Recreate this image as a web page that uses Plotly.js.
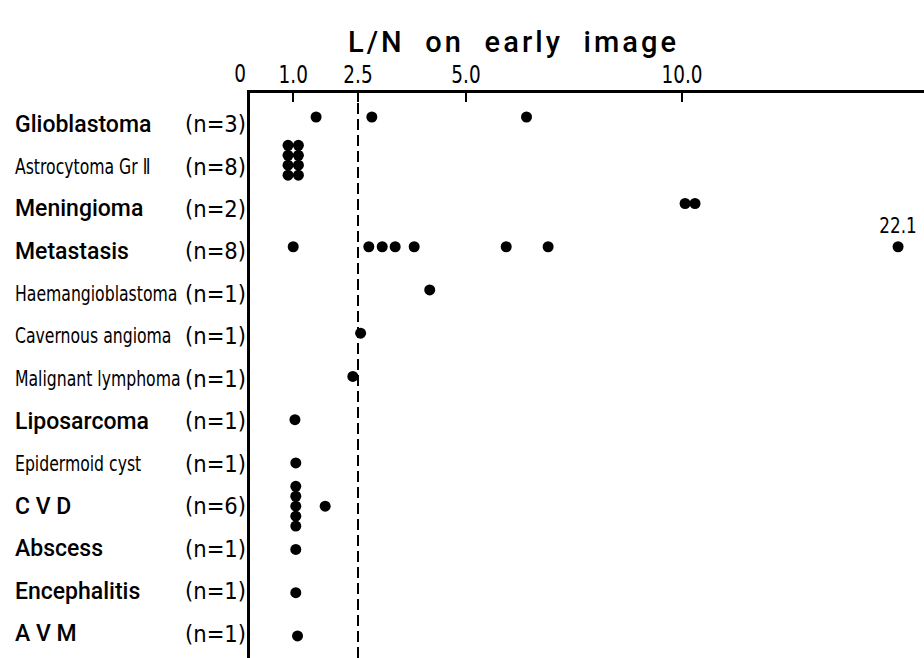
<!DOCTYPE html>
<html>
<head>
<meta charset="utf-8">
<script src="https://cdn.plot.ly/plotly-3.0.1.min.js"></script>
<style>html,body{margin:0;padding:0;background:#fff;}#chart{width:924px;height:658px;}</style>
</head>
<body>
<div id="chart"></div>
<script>
// ---- data ----
const categories = ["Glioblastoma", "Astrocytoma Gr Ⅱ", "Meningioma", "Metastasis",
  "Haemangioblastoma", "Cavernous angioma", "Malignant lymphoma", "Liposarcoma",
  "Epidermoid cyst", "C V D", "Abscess", "Encephalitis", "A V M"];
const counts = [3, 8, 2, 8, 1, 1, 1, 1, 1, 6, 1, 1, 1];
const lnValues = [
  [1.53, 2.82, 6.40],
  [0.88, 1.12, 0.88, 1.12, 0.88, 1.12, 0.88, 1.12],
  [10.07, 10.30],
  [1.00, 2.75, 3.06, 3.36, 3.80, 5.93, 6.90, 22.1],
  [4.16],
  [2.56],
  [2.38],
  [1.04],
  [1.06],
  [1.06, 1.06, 1.06, 1.06, 1.06, 1.74],
  [1.06],
  [1.06],
  [1.10]
];
const tickValues = [0, 1, 2.5, 5, 10];
const tickLabels = ["0", "1.0", "2.5", "5.0", "10.0"];
const cutoff = 2.5;
const titleText = "L/N  on  early  image";

// ---- styling / layout helpers ----
const narrowSet = new Set(["Astrocytoma Gr Ⅱ", "Haemangioblastoma", "Cavernous angioma",
  "Malignant lymphoma", "Epidermoid cyst"]);
const axisBreakAt = 15.0;   // values beyond the axis are drawn at the break, labelled
const stackStep = 0.23;     // vertical spacing of coincident dots (row units)
const condensed = {family: "DejaVu Sans Condensed, DejaVu Sans, sans-serif", stretch: "condensed", color: "#000"};

const xs = [], ys = [], txt = [];
lnValues.forEach((vals, row) => {
  const groups = [];
  vals.forEach(v => {
    let g = groups.find(gr => Math.abs(gr.v - v) < 0.1);
    if (!g) { g = {v: v, items: []}; groups.push(g); }
    g.items.push(v);
  });
  groups.forEach(g => {
    const k = g.items.length;
    g.items.forEach((v, j) => {
      const beyond = v > axisBreakAt + 0.6;
      xs.push(beyond ? axisBreakAt : v);
      ys.push(row + (j - (k - 1) / 2) * stackStep);
      txt.push(beyond ? v.toFixed(1) : "");
    });
  });
});

const W = 924, L = 250;
const plotW = W - L;
const annotations = [];
categories.forEach((c, i) => {
  const narrow = narrowSet.has(c);
  const shift = -(7 - 0.75 * i);
  annotations.push({
    text: c, xref: "paper", yref: "y", x: (13 - L) / plotW, y: i, align: "left",
    xanchor: "left", yanchor: "middle", showarrow: false, yshift: shift,
    font: narrow ? Object.assign({size: 21}, condensed)
                 : {family: "Roboto, Liberation Sans, sans-serif", size: 23, color: "#000", weight: 500}
  });
  annotations.push({
    text: "(n=" + counts[i] + ")", xref: "paper", yref: "y", x: (248 - L) / plotW, y: i,
    xanchor: "right", yanchor: "middle", showarrow: false, yshift: shift,
    font: Object.assign({size: 23.5}, condensed)
  });
});
annotations.push({
  text: tickLabels[0], xref: "x", yref: "paper", x: tickValues[0], y: 1,
  xanchor: "center", yanchor: "bottom", xshift: -10, yshift: 3, showarrow: false,
  font: Object.assign({size: 25}, condensed)
});

const trace = {
  type: "scatter", mode: "markers+text", x: xs, y: ys, text: txt,
  textposition: "top center", cliponaxis: false, hoverinfo: "skip",
  textfont: Object.assign({size: 22}, condensed),
  marker: {color: "#000", size: 11, line: {width: 0}}
};

const layout = {
  width: 924, height: 658,
  margin: {l: L, r: 0, t: 93, b: 0, pad: 0},
  paper_bgcolor: "#fff", plot_bgcolor: "#fff",
  showlegend: false,
  title: {
    text: titleText, x: 512 / 924, xanchor: "center", xref: "container",
    y: 1 - 42 / 658, yanchor: "middle", yref: "container",
    font: {family: "Roboto, Liberation Sans, sans-serif", size: 29, color: "#000", weight: 500}
  },
  xaxis: {
    side: "top", range: [0, 15.6], showgrid: false, zeroline: false,
    tickvals: tickValues.slice(1), ticktext: tickLabels.slice(1),
    ticks: "inside", ticklen: 9, tickwidth: 2, tickcolor: "#000",
    showline: true, linewidth: 3, linecolor: "#000", ticklabelstandoff: -3,
    tickfont: Object.assign({size: 25}, condensed),
    fixedrange: true
  },
  yaxis: {
    range: [12.51, -0.555], showgrid: false, zeroline: false, showticklabels: false,
    ticks: "", showline: true, linewidth: 3.5, linecolor: "#000", fixedrange: true
  },
  shapes: [{
    type: "line", xref: "x", yref: "paper", x0: cutoff, x1: cutoff, y0: 0, y1: 0.985,
    line: {color: "#000", width: 2, dash: "11px,5px"}
  }],
  annotations: annotations
};

Plotly.newPlot("chart", [trace], layout, {displayModeBar: false, staticPlot: true}).then(gd => {
  // horizontally condense text around its anchor point (the reference uses a narrow typeface)
  const squeeze = (el, k) => {
    const bb = el.getBBox();
    const anchor = el.getAttribute("text-anchor") || "start";
    const ax = anchor === "middle" ? bb.x + bb.width / 2 : anchor === "end" ? bb.x + bb.width : bb.x;
    const prev = el.getAttribute("transform") || "";
    el.setAttribute("transform", `${prev} translate(${ax},0) scale(${k},1) translate(${-ax},0)`.trim());
  };
  gd.querySelectorAll(".annotation-text").forEach(t => {
    if (narrowSet.has(t.textContent)) squeeze(t, 0.83);
    else if (t.textContent === tickLabels[0]) squeeze(t, 0.82);
  });
  gd.querySelectorAll(".xtick text").forEach(t => squeeze(t, 0.82));
  gd.querySelectorAll(".textpoint text").forEach(t => { if (t.textContent) squeeze(t, 0.85); });
  const title = gd.querySelector(".gtitle");
  if (title) { title.setAttribute("textLength", 328); title.setAttribute("lengthAdjust", "spacing"); }
});
</script>
</body>
</html>
